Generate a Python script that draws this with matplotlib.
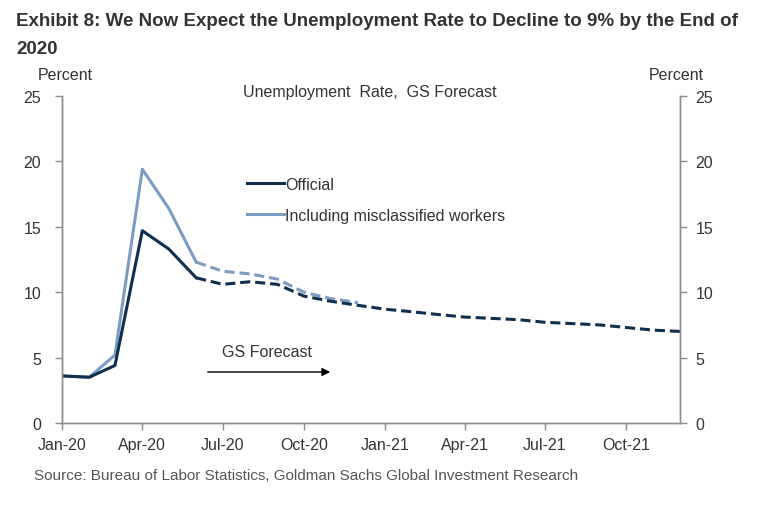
import numpy as np
import pandas as pd
import matplotlib
matplotlib.use("Agg")
import matplotlib.pyplot as plt
import matplotlib.dates as mdates

# monthly values, Jan-20 .. Dec-21
months = pd.date_range("2020-01-01", "2021-12-01", freq="MS")
official = [3.6, 3.5, 4.4, 14.7, 13.3, 11.1, 10.6, 10.8, 10.6, 9.7, 9.3, 9.0,
            8.7, 8.5, 8.3, 8.1, 8.0, 7.9, 7.7, 7.6, 7.5, 7.3, 7.1, 7.0]
misclassified = [3.6, 3.5, 5.2, 19.4, 16.4, 12.3, 11.6, 11.4, 11.0, 10.0, 9.5, 9.2]
n_actual = 6  # Jan-Jun 2020 are actual, rest is forecast

dark = "#0f2f4f"
light = "#7d9cc2"
grey = "#8c8c8c"
txt = "#333333"

W, H = 771, 506
fig = plt.figure(figsize=(W / 100, H / 100), dpi=100)
ax = fig.add_axes([62 / W, 1 - 424 / H, (680 - 62) / W, (424 - 97) / H])

def fx(px):
    return px / W

def fy(py):
    return 1 - py / H

mis_months = months[:len(misclassified)]
dash = (3.3, 1.6)
ax.plot(mis_months[:n_actual], misclassified[:n_actual], color=light, lw=2.2,
        label="Including misclassified workers", solid_joinstyle="round", zorder=2)
ax.plot(mis_months[n_actual - 1:], misclassified[n_actual - 1:], color=light, lw=2.2,
        dashes=dash, zorder=2)
ax.plot(months[:n_actual], official[:n_actual], color=dark, lw=2.2,
        label="Official", solid_joinstyle="round", zorder=3)
ax.plot(months[n_actual - 1:], official[n_actual - 1:], color=dark, lw=2.2,
        dashes=dash, zorder=3)

ax.set_xlim(months[0], months[-1])
ax.set_ylim(0, 25)
ax.set_yticks([0, 5, 10, 15, 20, 25])
ax.xaxis.set_major_locator(mdates.MonthLocator(bymonth=[1, 4, 7, 10]))
ax.xaxis.set_major_formatter(mdates.DateFormatter("%b-%y"))

ax2 = ax.twinx()
ax2.set_ylim(0, 25)
ax2.set_yticks([0, 5, 10, 15, 20, 25])

for a in (ax, ax2):
    a.spines["top"].set_visible(False)
    for s in ("left", "right", "bottom"):
        a.spines[s].set_color(grey)
        a.spines[s].set_linewidth(1.0)
    a.tick_params(colors=grey, labelcolor=txt, labelsize=11.5, length=5, width=1)
    for lab in a.get_xticklabels() + a.get_yticklabels():
        lab.set_family("Liberation Sans")
ax.tick_params(axis="y", pad=10)
ax2.tick_params(axis="y", pad=6)
ax.tick_params(axis="x", pad=5)

handles, labels = ax.get_legend_handles_labels()
order = [1, 0]
leg = fig.legend([handles[i] for i in order], [labels[i] for i in order],
                 loc="upper left", bbox_to_anchor=(fx(247), fy(178)),
                 frameon=False, handlelength=2.3, handletextpad=0.1,
                 labelspacing=1.0, borderpad=0, borderaxespad=0,
                 prop={"family": "Liberation Sans", "size": 11.5})
for t in leg.get_texts():
    t.set_color(txt)

fig.text(fx(16), fy(13), "Exhibit 8: We Now Expect the Unemployment Rate to Decline to 9% by the End of\n2020",
         ha="left", va="top", fontsize=13.5, fontweight="bold", color="#333333",
         family="Liberation Sans", linespacing=1.85)
fig.text(fx(65), fy(76), "Percent", ha="center", va="center", fontsize=11.5,
         color=txt, family="Liberation Sans")
fig.text(fx(676), fy(76), "Percent", ha="center", va="center", fontsize=11.5,
         color=txt, family="Liberation Sans")
fig.text(fx(370), fy(93), "Unemployment  Rate,  GS Forecast", ha="center", va="center",
         fontsize=11.5, color=txt, family="Liberation Sans")
fig.text(fx(267), fy(353), "GS Forecast", ha="center", va="center", fontsize=11.5,
         color=txt, family="Liberation Sans")
ax.annotate("", xy=(fx(333), fy(373)), xytext=(fx(205), fy(373)),
            xycoords="figure fraction", textcoords="figure fraction",
            arrowprops=dict(arrowstyle="-|>", color="black", lw=1.0,
                            mutation_scale=12))
fig.text(fx(578), fy(476), "Source: Bureau of Labor Statistics, Goldman Sachs Global Investment Research",
         ha="right", va="center", fontsize=11, color="#555555",
         family="Liberation Sans")

fig.savefig("out.png", dpi=100)
